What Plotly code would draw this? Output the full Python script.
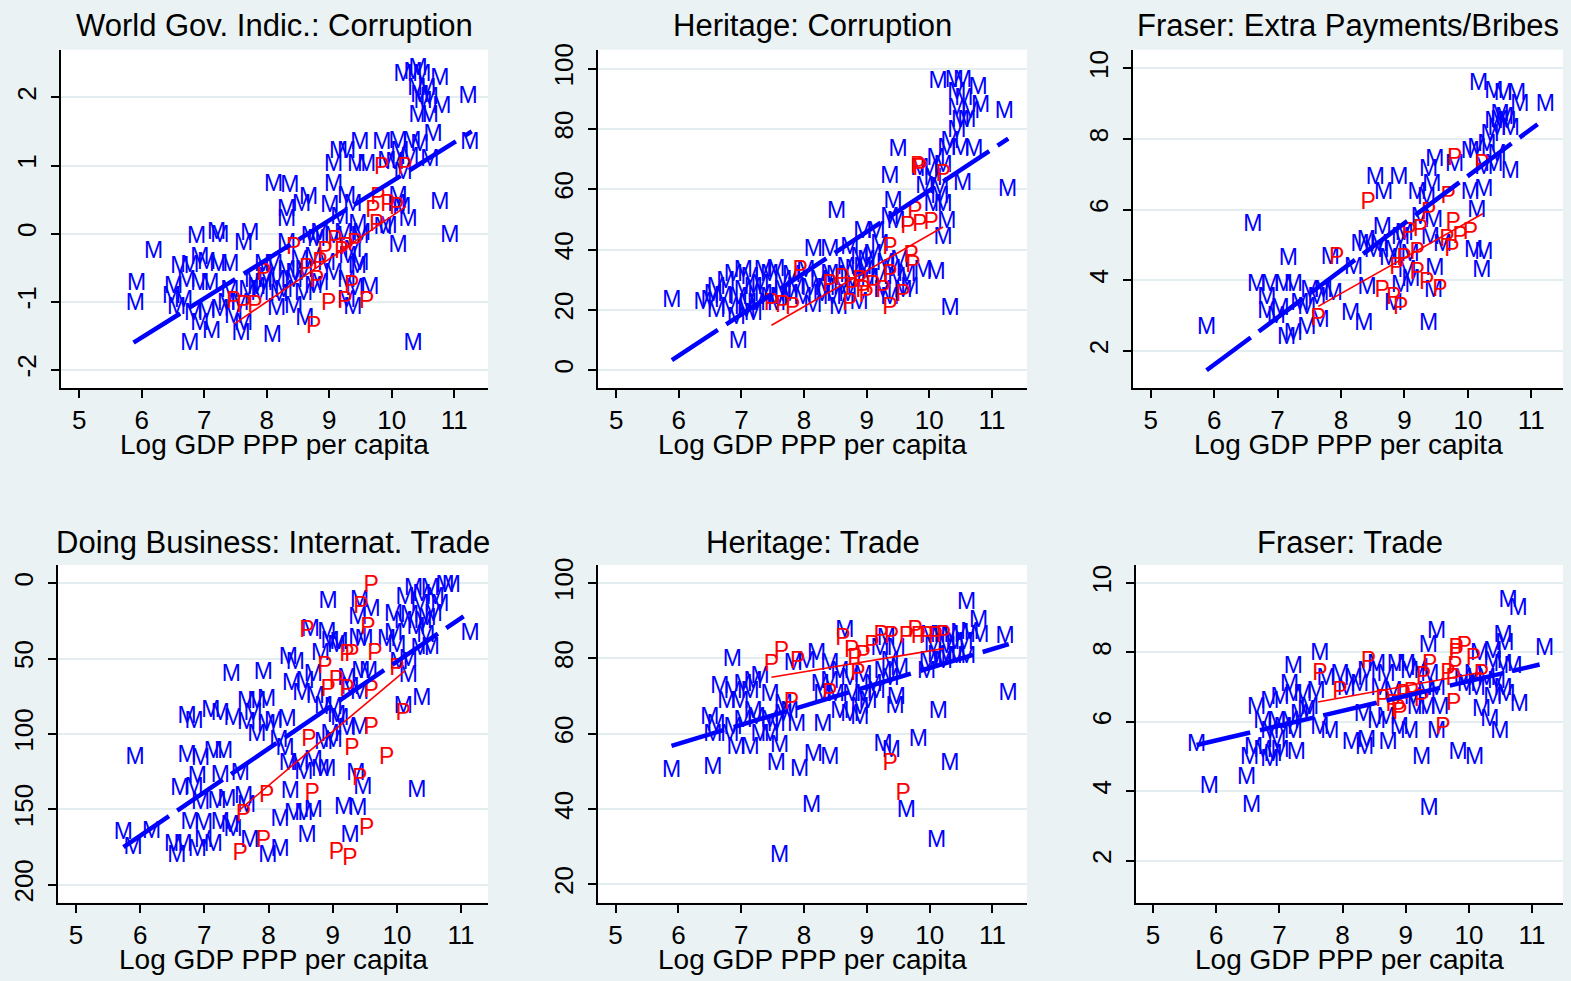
import plotly.graph_objects as go

W, H = 1571, 981
FONT = "Liberation Sans, Arial, Helvetica, sans-serif"
BG = "#eaf2f3"
GRID = "#e4edef"
BLUE = "#0000ff"
RED = "#ff0000"

x_ticks = [5, 6, 7, 8, 9, 10, 11]
xlabel = "Log GDP PPP per capita"

titles = ["World Gov. Indic.: Corruption", "Heritage: Corruption", "Fraser: Extra Payments/Bribes",
          "Doing Business: Internat. Trade", "Heritage: Trade", "Fraser: Trade"]

# ---------------- Panel 1: World Gov. Indic.: Corruption ----------------
p1_y_ticks = [-2, -1, 0, 1, 2]
p1_m = [(6.19,-0.27),(5.92,-0.74),(5.9,-1.04),(6.77,-1.63),(8.09,-1.5),(7.59,-1.48),(7.12,-1.45),(10.34,-1.62),
        (10.77,0.44),(10.93,-0.04),(11.25,1.32),(11.22,2.0),
        (10.18,2.32),(10.42,2.41),(10.48,2.32),(10.77,2.27),(10.4,2.12),(10.56,2.12),(10.5,1.93),(10.8,1.85),
        (10.42,1.73),(10.6,1.73),(10.45,2.02),(10.6,1.98),(10.34,2.36),
        (9.07,1.0),(9.15,1.2),(9.28,1.2),(9.49,1.32),(9.84,1.32),(9.44,1.0),(9.6,1.0),(10.1,1.34),(10.32,1.34),
        (10.45,1.3),(10.66,1.44),(10.13,1.2),(10.05,1.03),(10.18,0.88),(10.61,1.08),(9.92,1.05),(10.29,1.1),
        (8.11,0.71),(8.37,0.69),(8.32,0.35),(8.32,0.2),(8.56,0.42),(8.67,0.52),(9.07,0.71),(9.01,0.4),(9.28,0.54),
        (9.38,0.42),(9.17,0.23),(9.46,0.13),(9.52,-0.01),(10.1,0.54),(10.16,0.37),(10.26,0.19),(9.86,0.08),
        (10.1,-0.18),(9.94,0.1),(10.08,0.42),
        (6.88,-0.06),(7.2,0.01),(7.25,-0.04),(7.73,-0.01),(7.63,-0.16),(6.61,-0.5),(6.77,-0.48),(7.04,-0.43),
        (7.23,-0.46),(7.41,-0.46),(6.93,-0.36),(6.51,-0.79),(6.72,-0.7),(6.93,-0.74),(7.09,-0.74),(6.48,-0.94),
        (6.67,-0.99),(6.56,-1.09),(6.83,-1.18),(7.04,-1.16),(7.25,-1.13),(6.93,-1.33),(7.41,-0.84),(7.57,-1.04),
        (7.47,-1.23),(7.63,-1.33),(7.36,-1.04),(7.79,-0.7),(7.95,-0.46),(7.84,-0.8),(8.0,-0.65),
        (8.16,-0.7),(8.32,-0.55),(8.43,-0.7),(8.32,-0.16),(8.16,-1.11),(8.43,-1.08),(8.61,-1.26),(8.59,-0.89),
        (8.75,-0.79),(8.85,-0.01),(9.07,-0.06),(9.23,-0.01),(8.96,-0.45),(9.07,-0.6),(8.85,-0.75),(9.28,-0.7),
        (9.38,-0.26),(9.49,-0.45),(9.41,-0.82),(9.65,-0.8),(9.38,-1.09),(9.28,-0.99),(8.53,-0.4),(8.75,-0.36),
        (7.89,-0.89),(8.27,-0.84),(8.11,-0.46),(9.49,-0.06),(7.7,-0.85),(7.95,-0.75),(8.2,-0.9),(8.45,-0.6),
        (8.6,-0.55),(8.7,-0.05),(8.8,-0.1),(9.3,-0.35),(9.45,-0.5)]
p1_p = [(9.84,0.96),(10.21,0.96),(9.78,0.52),(9.94,0.42),(9.7,0.33),(10.08,0.37),(9.76,0.13),(8.43,-0.21),
        (9.09,-0.11),(9.28,-0.21),(9.41,-0.16),(9.2,-0.28),(8.93,-0.28),(8.85,-0.43),(8.64,-0.53),(7.95,-0.6),
        (8.8,-0.7),(7.47,-1.01),(7.63,-1.06),(7.81,-1.06),(8.99,-1.04),(9.25,-1.01),(9.6,-1.01),(9.36,-0.77),
        (8.75,-1.38)]
p1_fitm_x, p1_fitm_y = [5.87, 11.28], [-1.6, 1.5]
p1_fitp_x, p1_fitp_y = [7.49, 10.23], [-1.32, 0.4]

# ---------------- Panel 2: Heritage: Corruption ----------------
p2_y_ticks = [0, 20, 40, 60, 80, 100]
p2_m = [(5.89,23),(6.95,9.4),(10.33,20.1),(11.25,59.6),(11.2,85.4),(8.52,52.5),(9.5,72.8),(9.37,64),(9.42,55.8),
        (10.14,95.5),(10.4,95.8),(10.53,95.8),(10.78,93.6),(10.44,92),(10.55,89.8),(10.82,87.6),(10.44,86.5),
        (10.66,85.4),(10.5,82.7),(10.6,82.7),(10.44,79.4),(10.33,75.5),(10.5,73.3),(10.71,72.8),(10.28,73.3),
        (10.11,70),(10.22,67.8),(10.0,66.2),(10.06,63.4),(10.17,57.4),(10.06,54.7),(10.22,54.7),(10.28,49.2),
        (10.22,43.7),(10.53,61.8),(9.93,60.7),(10.17,60.2),(9.85,66.7),
        (8.94,45.9),(9.15,45.9),(9.37,50.3),(9.47,49.2),(8.15,39.8),(8.41,39.8),(8.73,40.4),(8.89,37.1),(9.1,38.2),
        (9.21,41.5),(9.53,36),(9.9,32.7),(10.11,32.2),(9.69,27.2),(9.48,30.5),(9.37,23.9),
        (6.5,22.8),(6.6,27.2),(6.71,24.1),(6.87,31.6),(7.03,32.7),(7.14,30.5),(7.35,32.7),(7.45,31.6),(6.82,20.6),
        (6.92,17.3),(7.08,19.5),(7.24,21.7),(7.35,25),(7.03,26.1),(7.19,27.2),(7.45,23.9),(7.66,29.4),(7.77,25),
        (7.87,27.2),(7.98,23.9),(8.14,21.2),(8.24,29.4),(8.29,25),(8.45,23.9),(8.55,20.6),(8.61,27.2),(8.77,29.4),
        (8.88,22.3),(8.99,32.7),(9.2,30.5),(9.26,26.1),(8.94,33.8),(8.67,33.8),(8.03,32.7),(6.6,19.5),(6.39,22.3),
        (7.19,18.4),(7.56,21.7),(7.66,26.1),(8.41,31.6),(9.64,31.6),(9.58,26.1),
        (6.75,29),(6.95,24),(7.1,22),(7.3,28),(7.55,33),(7.8,31),(8.1,27),(8.35,27),(8.5,31),(8.7,25),(6.55,25),
        (7.6,24),(8.8,33),(9.0,36),(9.3,35),(9.4,33),(9.05,30)]
p2_p = [(9.82,67.3),(9.85,66.7),(10.22,64.5),(9.77,52.5),(9.66,47.5),(9.85,48.1),(10.03,48.6),(9.37,40.4),
        (9.71,37.7),(9.74,34.4),(9.37,31.6),(7.94,32.7),(8.41,28.3),(8.61,30),(8.77,27.2),(8.89,29.4),(8.94,26.1),
        (9.1,27.8),(9.26,26.1),(9.58,25),(8.99,24.5),(8.73,21.7),(9.37,20.6),(7.48,21.7),(7.66,21.2),(7.82,20.6)]
p2_fitm_x, p2_fitm_y = [5.89, 11.26], [3.3, 76.8]
p2_fitp_x, p2_fitp_y = [7.48, 10.22], [14.9, 47.5]

# ---------------- Panel 3: Fraser: Extra Payments/Bribes ----------------
p3_y_ticks = [2, 4, 6, 8, 10]
p3_m = [(5.88,2.65),(6.61,5.56),(7.17,4.58),(9.38,2.75),(11.22,8.96),
        (10.17,9.55),(10.41,9.32),(10.56,9.27),(10.77,9.27),(10.82,8.96),(10.51,8.66),(10.41,8.47),(10.62,8.47),
        (10.46,8.28),(10.67,8.28),(10.35,8.1),(10.14,7.72),(10.04,7.63),(10.3,7.81),(10.46,7.53),(10.41,7.25),
        (10.67,7.06),(10.25,7.16),(10.5,8.5),(10.58,8.6),
        (9.48,7.39),(9.79,7.25),(9.38,7.11),(9.43,6.69),(9.2,6.45),(9.35,6.31),(8.54,6.88),(8.91,6.88),(8.67,6.45),
        (10.04,6.45),(10.25,6.55),(10.14,5.94),(9.46,5.66),(9.25,5.75),(8.65,5.47),(8.94,5.19),(9.41,5.19),
        (9.09,4.72),(8.83,4.81),(8.3,5.0),(8.51,4.81),(8.2,4.34),(9.04,4.25),(9.48,4.3),(10.09,4.81),(10.25,4.77),
        (10.22,4.25),(8.94,3.83),(8.41,3.78),(8.15,3.03),(8.36,2.75),(8.83,3.31),(9.46,3.69),
        (6.67,3.87),(6.88,3.87),(7.09,3.87),(7.25,3.87),(6.83,3.5),(6.83,3.08),(6.98,2.94),(7.14,2.37),(7.25,2.47),
        (7.46,2.65),(7.35,3.31),(7.51,3.69),(7.72,3.69),(7.88,3.59),(7.62,3.5),(7.46,3.22),(7.67,2.84),(7.04,3.17),
        (7.83,4.62),(8.4,5.1),(8.6,5.0),(8.75,4.6),(9.0,5.3),(9.6,5.0),(9.1,4.0)]
p3_p = [(8.43,6.17),(9.79,7.44),(10.22,7.25),(9.69,6.36),(9.38,5.89),(9.07,5.33),(9.25,5.42),(9.77,5.61),
        (10.04,5.33),(9.88,5.23),(9.67,5.14),(9.75,4.86),(9.2,4.77),(8.99,4.58),(8.88,4.34),(9.2,4.2),(9.35,3.92),
        (9.56,3.73),(8.65,3.69),(8.83,3.5),(8.94,3.22),(7.64,2.89),(7.93,4.62)]
p3_fitm_x, p3_fitm_y = [5.88, 11.1], [1.45, 8.42]
p3_fitp_x, p3_fitp_y = [7.64, 10.24], [3.26, 5.89]

# ---------------- Panel 4: Doing Business: Internat. Trade ----------------
p4_y_ticks = [0, 50, 100, 150, 200]
p4_m = [(5.92,116),(5.74,166),(5.89,176),(6.18,165),(8.93,13),(9.42,12),(11.14,34),(10.31,138),(10.39,77),(10.1,82),
        (7.42,61),(7.92,60),
        (9.95,21),(10.13,10),(10.26,4),(10.39,8),(10.52,4),(10.75,2),(10.85,2),(10.67,15),(10.36,15),(10.2,22),
        (10.47,24),(10.57,21),(10.1,26),(9.95,34),(9.84,38),(10.0,42),(10.36,44),(10.52,43),(10.41,26),(9.39,23),
        (9.39,37),(9.49,38),(8.65,31),(8.91,33),(8.96,39),(9.06,42),(8.81,47),(10.18,51),(10.03,53),(10.18,62),
        (9.44,59),(9.56,59),(9.22,64),(9.27,70),(9.42,73),(8.7,61),
        (8.31,50),(8.42,53),(8.36,67),(8.57,66),(8.52,74),(8.73,76),(7.66,79),(7.82,79),(7.97,78),(7.76,87),(6.73,89),
        (6.84,92),(7.1,85),(7.25,87),(7.45,90),(7.66,93),(7.82,101),(7.97,94),(8.08,92),(8.29,91),(8.16,105),
        (8.26,110),(8.86,82),(9.01,83),(9.11,90),(8.96,101),(9.01,105),(9.22,97),(9.42,96),(8.86,106),
        (6.73,115),(6.94,117),(7.14,112),(7.3,112),(7.25,128),(7.56,127),(6.89,129),(6.62,137),(6.84,136),(6.94,146),
        (7.2,145),(7.35,144),(7.61,142),(7.66,148),(6.78,159),(6.99,160),(7.25,159),(7.4,161),(7.45,164),(6.52,174),
        (6.67,174),(6.57,181),(6.99,171),(7.14,174),(6.89,177),
        (8.31,120),(8.49,120),(8.7,118),(8.81,124),(8.91,124),(8.55,126),(8.34,139),(8.18,157),(8.39,153),
        (8.55,153),(8.7,151),(9.17,149),(9.39,150),(9.36,127),(9.47,136),(8.6,168),(9.27,168),(7.99,181),(8.18,177),
        (7.71,171),(9.06,88),(10.3,30),(10.45,35),(10.6,10),(9.6,18),(9.1,40)]
p4_p = [(9.6,2),(9.44,16),(8.6,32),(9.55,30),(9.66,47),(9.22,48),(9.3,48),(8.88,56),(10.0,57),(9.06,65),(8.93,71),
        (9.22,71),(9.6,72),(10.1,87),(9.6,96),(8.63,104),(9.3,110),(9.84,116),(9.42,130),(7.97,141),(8.68,140),
        (7.61,154),(7.92,171),(7.56,180),(9.06,179),(9.27,183),(9.53,163)]
p4_fitm_x, p4_fitm_y = [5.74, 11.04], [175, 22]
p4_fitp_x, p4_fitp_y = [7.53, 10.13], [151, 58]

# ---------------- Panel 5: Heritage: Trade ----------------
p5_y_ticks = [20, 40, 60, 80, 100]
p5_m = [(5.89,50),(6.55,50.9),(6.86,79.4),(7.56,51.8),(7.61,56.6),(7.61,27.6),(7.93,50.4),(8.12,40.8),(8.15,54.4),
        (8.41,53.5),(9.26,57),(9.39,55.3),(9.82,58.3),(10.32,51.8),(9.63,39.5),(10.11,31.6),(10.14,65.8),
        (11.25,70.6),(11.2,85.5),(10.59,94.7),(10.78,89.9),(9.45,67.1),(9.47,69.3),(8.3,62.3),(7.88,62.3),
        (10.0,86),(10.16,86),(10.32,86),(10.48,86.4),(10.64,86.8),(10.8,86),(10.06,83.3),(10.27,82.9),(10.11,80.7),
        (10.27,80.3),(10.43,80.3),(10.59,80.3),(9.98,78.9),(10.22,78.9),(9.95,76.3),(10.4,84),(10.55,84),
        (8.65,87.3),(8.2,81.1),(8.41,78.5),(8.04,78.9),(7.83,78.5),(8.26,72.8),(8.41,73.7),(8.57,76.3),(8.73,74.6),
        (8.94,75.4),(9.1,72.8),(9.26,76.3),(9.37,78.9),(9.47,82.5),(9.21,82.5),(9.31,85.1),(9.52,77.2),(9.37,74.6),
        (8.57,65.8),(8.73,64.9),(8.89,66.7),(8.94,70.2),(9.15,71.1),(8.3,70.2),(8.5,70.2),(8.76,70.2),(8.89,64),
        (9.02,68.4),
        (6.66,72.4),(6.87,71.1),(7.03,72.8),(7.19,73.7),(7.3,75),(7.46,70.2),(6.77,68.4),(6.98,68.4),(7.14,71.1),
        (6.5,64),(6.6,62.3),(6.55,59.6),(6.87,61.4),(7.03,63.2),(7.24,64),(7.46,63.2),(7.67,64.9),(7.77,65.8),
        (6.92,56.1),(7.14,56.1),(7.3,59.6),(7.46,59.6),(6.82,59.6),(7.56,62.3),(7.19,65.8),(7.67,67.5)]
p5_p = [(7.48,78.1),(7.64,81.6),(7.9,78.9),(8.62,85.1),(7.8,68),(8.41,70.6),(8.76,82),(8.94,80.7),(8.81,79.8),
        (9.08,83.3),(8.86,75.9),(9.23,86),(9.39,85.5),(9.63,85.5),(9.77,87.3),(9.82,85.5),(9.95,85.5),(10.09,85.5),
        (10.22,86),(9.37,51.8),(9.58,43.9)]
p5_fitm_x, p5_fitm_y = [5.89, 11.26], [56.8, 83.8]
p5_fitp_x, p5_fitp_y = [7.48, 10.22], [75.0, 82.6]

# ---------------- Panel 6: Fraser: Trade ----------------
p6_y_ticks = [2, 4, 6, 8, 10]
p6_m = [(5.69,5.33),(5.89,4.1),(6.48,4.38),(6.56,3.57),(9.37,3.48),(10.62,9.48),(10.78,9.24),(11.2,8.1),(10.8,6.48),
        (9.49,8.57),(9.36,8.19),(7.64,7.95),(7.22,7.57),
        (9.25,4.95),(9.83,5.1),(10.09,4.95),(10.49,5.71),(10.33,6.05),(10.2,6.33),
        (10.54,8.48),(10.57,8.24),(10.38,8.0),(10.17,7.95),(10.38,7.71),(10.54,7.62),(10.7,7.57),(10.07,7.33),
        (10.28,7.24),(10.44,7.14),(10.54,6.95),(9.96,7.05),(10.12,6.95),(10.38,6.67),(10.59,6.76),(9.91,7.24),
        (9.22,7.52),(9.38,7.33),(9.49,6.95),(9.33,6.86),(9.06,7.43),(8.85,7.62),(9.01,7.62),(8.69,7.33),(8.54,7.62),
        (8.38,7.43),(8.17,7.24),(7.96,7.33),(7.74,7.24),(8.06,6.95),(8.27,7.05),(8.59,6.95),(8.8,6.86),(9.12,6.67),
        (9.33,6.38),(9.54,6.38),(9.17,6.38),(8.33,6.19),(8.54,6.0),(8.69,6.1),(8.9,5.81),(9.06,5.71),(9.49,5.71),
        (7.64,5.81),(7.8,5.71),(8.14,5.38),(8.38,5.43),(8.72,5.38),(8.35,5.24),(7.37,6.76),(7.58,6.86),(7.48,6.38),
        (6.64,6.38),(6.85,6.57),(7.01,6.67),(7.16,7.05),(7.22,6.76),(6.74,6.0),(6.96,6.0),(7.17,6.0),(7.32,6.19),
        (7.43,6.29),(6.85,5.71),(7.06,5.81),(7.22,5.71),(6.96,5.43),(6.59,5.24),(6.74,5.14),(6.9,5.05),(7.01,5.14),
        (7.27,5.1),(6.53,4.95),(6.85,4.9)]
p6_p = [(7.64,7.38),(7.96,6.86),(8.41,7.71),(9.8,8.1),(9.93,8.14),(9.8,7.95),(10.07,7.81),(9.38,7.62),(9.78,7.57),
        (9.28,7.29),(9.67,7.38),(9.75,7.24),(10.2,7.33),(8.64,6.62),(8.96,6.76),(9.09,6.81),(9.25,6.62),(8.8,6.48),
        (8.88,6.33),(8.91,6.24),(9.76,6.52),(9.59,5.81)]
p6_fitm_x, p6_fitm_y = [5.69, 11.12], [5.33, 7.65]
p6_fitp_x, p6_fitp_y = [7.61, 10.2], [6.57, 7.43]

# ---------------- layout (pixel boxes of plot areas) ----------------
panels = [
    dict(m=p1_m, p=p1_p, fm=(p1_fitm_x, p1_fitm_y), fp=(p1_fitp_x, p1_fitp_y), yt=p1_y_ticks,
         box=(61, 488, 43, 384), xr=[4.71, 11.54], yr=[-2.27, 2.70]),
    dict(m=p2_m, p=p2_p, fm=(p2_fitm_x, p2_fitm_y), fp=(p2_fitp_x, p2_fitp_y), yt=p2_y_ticks,
         box=(598, 1027, 43, 384), xr=[4.71, 11.56], yr=[-6.0, 106.3]),
    dict(m=p3_m, p=p3_p, fm=(p3_fitm_x, p3_fitm_y), fp=(p3_fitp_x, p3_fitp_y), yt=p3_y_ticks,
         box=(1133, 1563, 43, 384), xr=[4.72, 11.5], yr=[0.94, 10.53]),
    dict(m=p4_m, p=p4_p, fm=(p4_fitm_x, p4_fitm_y), fp=(p4_fitp_x, p4_fitp_y), yt=p4_y_ticks,
         box=(58, 488, 562, 902), xr=[4.72, 11.42], yr=[211.8, -12.0]),
    dict(m=p5_m, p=p5_p, fm=(p5_fitm_x, p5_fitm_y), fp=(p5_fitp_x, p5_fitp_y), yt=p5_y_ticks,
         box=(598, 1027, 562, 902), xr=[4.72, 11.55], yr=[15.2, 104.8]),
    dict(m=p6_m, p=p6_p, fm=(p6_fitm_x, p6_fitm_y), fp=(p6_fitp_x, p6_fitp_y), yt=p6_y_ticks,
         box=(1136, 1563, 562, 902), xr=[4.73, 11.49], yr=[0.79, 10.52]),
]

fig = go.Figure()
layout = dict(width=W, height=H, autosize=False, margin=dict(l=0, r=0, t=0, b=0, pad=0),
              paper_bgcolor=BG, plot_bgcolor="white", showlegend=False,
              font=dict(family=FONT, color="black"))
annotations = []

for i, pn in enumerate(panels, start=1):
    xa = "x" if i == 1 else f"x{i}"
    ya = "y" if i == 1 else f"y{i}"
    mx = [a for a, b in pn["m"]]
    my = [b for a, b in pn["m"]]
    px_ = [a for a, b in pn["p"]]
    py_ = [b for a, b in pn["p"]]
    fig.add_trace(go.Scatter(x=mx, y=my, mode="text", text=["M"] * len(mx), textposition="middle center",
                             textfont=dict(color=BLUE, size=23, family=FONT), xaxis=xa, yaxis=ya,
                             hoverinfo="skip", cliponaxis=False))
    fig.add_trace(go.Scatter(x=px_, y=py_, mode="text", text=["P"] * len(px_), textposition="middle center",
                             textfont=dict(color=RED, size=23, family=FONT), xaxis=xa, yaxis=ya,
                             hoverinfo="skip", cliponaxis=False))
    fig.add_trace(go.Scatter(x=pn["fm"][0], y=pn["fm"][1], mode="lines",
                             line=dict(color=BLUE, width=4.5, dash="55px,10px"), xaxis=xa, yaxis=ya,
                             hoverinfo="skip"))
    fig.add_trace(go.Scatter(x=pn["fp"][0], y=pn["fp"][1], mode="lines",
                             line=dict(color=RED, width=1.6), xaxis=xa, yaxis=ya, hoverinfo="skip"))

    x0, x1, y0, y1 = pn["box"]
    xdom = [x0 / W, x1 / W]
    ydom = [1 - y1 / H, 1 - y0 / H]
    xkey = "xaxis" if i == 1 else f"xaxis{i}"
    ykey = "yaxis" if i == 1 else f"yaxis{i}"
    layout[xkey] = dict(domain=xdom, range=pn["xr"], anchor=ya, tickmode="array", tickvals=x_ticks,
                        ticktext=[str(v) for v in x_ticks], showgrid=False, zeroline=False,
                        showline=True, linecolor="black", linewidth=2, ticks="outside", ticklen=8,
                        tickwidth=2, tickcolor="black", tickfont=dict(size=26, family=FONT, color="black"),
                        ticklabelstandoff=0, fixedrange=True)
    layout[ykey] = dict(domain=ydom, range=pn["yr"], anchor=xa, tickmode="array", tickvals=pn["yt"],
                        ticktext=[str(v) for v in pn["yt"]], showgrid=True, gridcolor=GRID, gridwidth=2,
                        zeroline=False, showline=True, linecolor="black", linewidth=2, ticks="outside",
                        ticklen=8, tickwidth=2, tickcolor="black", tickangle=-90,
                        tickfont=dict(size=26, family=FONT, color="black"), ticklabelstandoff=5,
                        fixedrange=True)
    cx = (x0 + x1) / 2 / W
    title_y = 19 if y0 < 300 else 539
    annotations.append(dict(text=titles[i - 1], x=cx, y=1 - title_y / H, xref="paper", yref="paper",
                            xanchor="center", yanchor="middle", showarrow=False,
                            font=dict(size=31, family=FONT, color="black")))
    xt_y = 441 if y0 < 300 else 959
    annotations.append(dict(text=xlabel, x=cx, y=1 - xt_y / H, xref="paper", yref="paper",
                            xanchor="center", yanchor="middle", showarrow=False,
                            font=dict(size=28, family=FONT, color="black")))

layout["annotations"] = annotations
fig.update_layout(**layout)
fig.write_html("out.html")
